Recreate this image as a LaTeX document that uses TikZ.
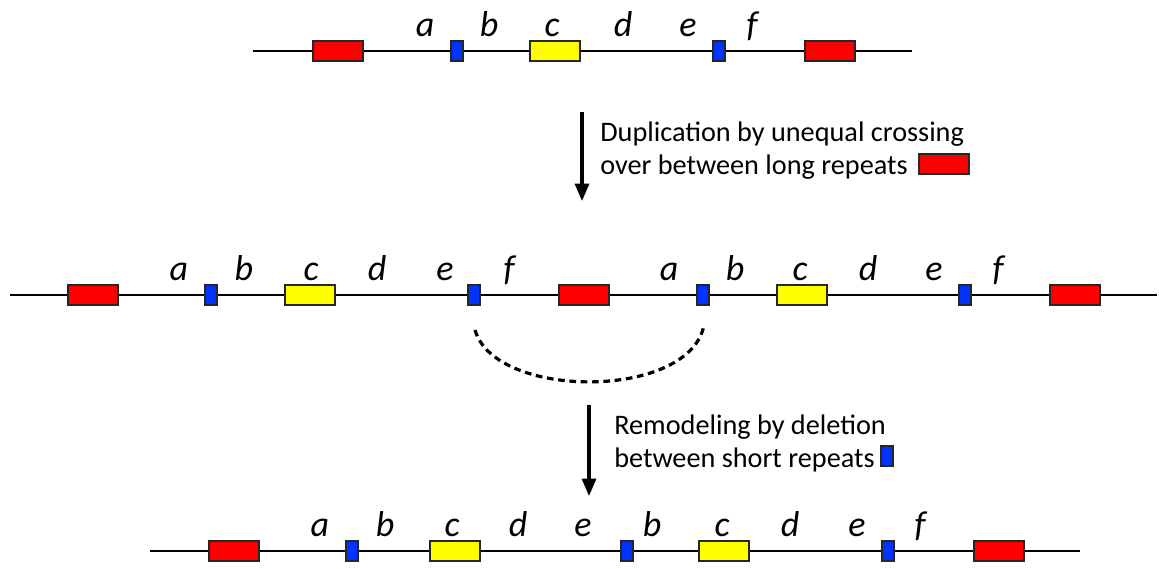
\documentclass[tikz,border=0pt]{standalone}
\usepackage{fontspec}
\setmainfont{Carlito}
\usetikzlibrary{arrows.meta}
\definecolor{rep}{RGB}{255,0,0}
\definecolor{srep}{RGB}{0,51,255}
\definecolor{gene}{RGB}{255,255,0}
\tikzset{
  backbone/.style={line width=2.2pt, black},
  longrep/.style={draw=black!85, line width=1.3pt, fill=rep, minimum width=37.5pt, minimum height=14.5pt, inner sep=0pt},
  shortrep/.style={draw=black!85, line width=1.3pt, fill=srep, minimum width=8.5pt, minimum height=15pt, inner sep=0pt},
  genebox/.style={draw=black!85, line width=1.3pt, fill=gene, minimum width=37.5pt, minimum height=14.5pt, inner sep=0pt},
  lbl/.style={font=\fontsize{27}{32}\selectfont\itshape, anchor=base, inner sep=0pt},
  caption/.style={font=\fontsize{21.2}{25}\selectfont, anchor=base west, inner sep=0pt},
  stage/.style={line width=2.3pt, -{Triangle[length=13pt,width=10.5pt]}},
  loopout/.style={line width=2.4pt, dash pattern=on 5pt off 3.5pt}
}
\begin{document}
\begin{tikzpicture}[x=0.75pt, y=-0.75pt]
\useasboundingbox (0,0) rectangle (1159,568);

% ---- ancestral segment ----
\coordinate (r1l) at (253,51);
\coordinate (r1r) at (912,51);
\draw[backbone] (r1l) -- (r1r);
\node[longrep]  (r1a) at (338,51) {};
\node[shortrep] (r1b) at (457,51) {};
\node[genebox]  (r1c) at (555,51) {};
\node[shortrep] (r1d) at (719,51) {};
\node[longrep]  (r1e) at (830,51) {};
\node[lbl] (l1a) at (425,36) {a};
\node[lbl] (l1b) at (489,36) {b};
\node[lbl] (l1c) at (552,36) {c};
\node[lbl] (l1d) at (623,36) {d};
\node[lbl] (l1e) at (688,36) {e};
\node[lbl] (l1f) at (752,36) {f};

% ---- first step ----
\coordinate (s1t) at (582,112);
\coordinate (s1b) at (582,201);
\draw[stage] (s1t) -- (s1b);
\node[caption] (t1a) at (600,141) {Duplication by unequal crossing};
\node[caption] (t1b) at (600,174) {over between long repeats};
\node[longrep] (k1) at (944,164) {};

% ---- duplicated segment ----
\coordinate (r2l) at (10,295);
\coordinate (r2r) at (1157,295);
\draw[backbone] (r2l) -- (r2r);
\node[longrep]  (r2a) at (93,295) {};
\node[shortrep] (r2b) at (211,295) {};
\node[genebox]  (r2c) at (310,295) {};
\node[shortrep] (r2d) at (474,295) {};
\node[longrep]  (r2e) at (584,295) {};
\node[shortrep] (r2f) at (703,295) {};
\node[genebox]  (r2g) at (802,295) {};
\node[shortrep] (r2h) at (965,295) {};
\node[longrep]  (r2i) at (1075,295) {};
\node[lbl] (l2a) at (179,280) {a};
\node[lbl] (l2b) at (244,280) {b};
\node[lbl] (l2c) at (311,280) {c};
\node[lbl] (l2d) at (377,280) {d};
\node[lbl] (l2e) at (445,280) {e};
\node[lbl] (l2f) at (509,280) {f};
\node[lbl] (l2g) at (669,280) {a};
\node[lbl] (l2h) at (735,280) {b};
\node[lbl] (l2i) at (800,280) {c};
\node[lbl] (l2j) at (868,280) {d};
\node[lbl] (l2k) at (934,280) {e};
\node[lbl] (l2l) at (998,280) {f};

% ---- deleted loop between the short repeats ----
\coordinate (lp1) at (475,330);
\coordinate (lp2) at (704,325);
\draw[loopout] (lp1) .. controls (495,400) and (690,400) .. (lp2);

% ---- second step ----
\coordinate (s2t) at (589,405);
\coordinate (s2b) at (589,496);
\draw[stage] (s2t) -- (s2b);
\node[caption] (t2a) at (614,434) {Remodeling by deletion};
\node[caption] (t2b) at (614,467) {between short repeats};
\node[shortrep] (k2) at (887,456) {};

% ---- remodeled segment ----
\coordinate (r3l) at (150,551);
\coordinate (r3r) at (1080,551);
\draw[backbone] (r3l) -- (r3r);
\node[longrep]  (r3a) at (234,551) {};
\node[shortrep] (r3b) at (352,551) {};
\node[genebox]  (r3c) at (455,551) {};
\node[shortrep] (r3d) at (627,551) {};
\node[genebox]  (r3e) at (724,551) {};
\node[shortrep] (r3f) at (888,551) {};
\node[longrep]  (r3g) at (999,551) {};
\node[lbl] (l3a) at (320,536) {a};
\node[lbl] (l3b) at (385,536) {b};
\node[lbl] (l3c) at (452,536) {c};
\node[lbl] (l3d) at (518,536) {d};
\node[lbl] (l3e) at (583,536) {e};
\node[lbl] (l3f) at (652,536) {b};
\node[lbl] (l3g) at (722,536) {c};
\node[lbl] (l3h) at (790,536) {d};
\node[lbl] (l3i) at (857,536) {e};
\node[lbl] (l3j) at (920,536) {f};
\end{tikzpicture}
\end{document}
